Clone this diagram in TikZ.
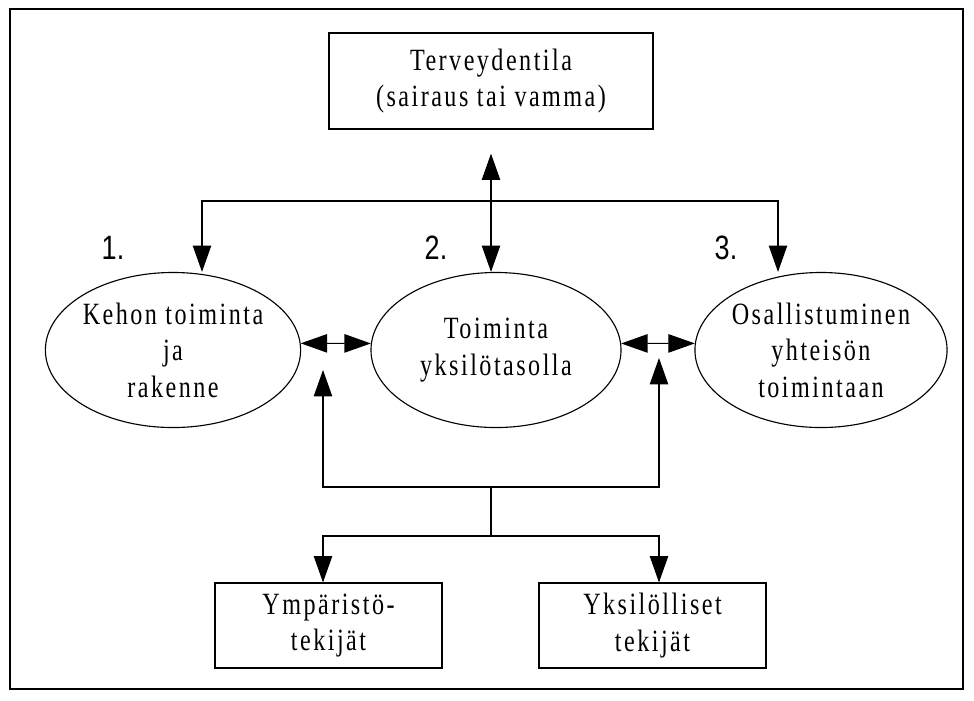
\documentclass[tikz,border=0pt]{standalone}
\usepackage{fontspec}
\setmainfont{Liberation Serif}[FakeStretch=0.78,LetterSpace=8]
\newfontfamily\numfont{Liberation Sans}[FakeStretch=0.8]
\usetikzlibrary{arrows.meta,shapes.geometric,positioning}
\newcommand{\boxfont}{\fontsize{22}{26}\selectfont}
\tikzset{%
	block/.style    = {draw, rectangle, line width=0.8pt, inner sep=0pt, align=center, font=\boxfont},
	blob/.style     = {draw, ellipse, line width=0.8pt, minimum width=6.25cm, minimum height=3.875cm, inner sep=0pt, align=center, font=\boxfont}, % Ellipse
	number/.style   = {font=\numfont\fontsize{24}{28}\selectfont}, % Number label
	waypoint/.style = {coordinate},
	arrow/.style    = {line width=0.8pt, -{Triangle[length=0.66cm,width=0.46cm]}},
	dblarrow/.style = {line width=0.8pt, {Triangle[length=0.66cm,width=0.46cm]}-{Triangle[length=0.66cm,width=0.46cm]}},
}

\begin{document}
\begin{tikzpicture}[x=0.025cm,y=-0.025cm]
	\useasboundingbox (0,0) rectangle (974,700);
	\draw[line width=1.4pt] (10,9) rectangle (963,689);
	
	\node [block, minimum width=8.1cm, minimum height=2.4cm] (health) at (491,81) {Terveydentila\\(sairaus tai vamma)};
	\node [blob] (body) at (173,350) {Kehon toiminta\\ja\\rakenne};
	\node [blob] (act) at (496,350) {Toiminta\\yksilötasolla};
	\node [blob] (part) at (821,350) {Osallistuminen\\yhteisön\\toimintaan};
	\node [number] (n1) at (113,248) {1.};
	\node [number] (n2) at (436,248) {2.};
	\node [number] (n3) at (726,248) {3.};
	\node [block, minimum width=5.675cm, minimum height=2.125cm] (env) at (328.5,625.5) {Ympäristö-\\tekijät};
	\node [block, minimum width=5.675cm, minimum height=2.125cm] (pers) at (652.5,625.5) {Yksilölliset\\tekijät};
	
	\node [waypoint] (tl) at (202,201) {};
	\node [waypoint] (tr) at (778,201) {};
	\node [waypoint] (ul) at (323,370) {};
	\node [waypoint] (ur) at (659,358) {};
	\node [waypoint] (bl) at (323,487) {};
	\node [waypoint] (br) at (659,487) {};
	\node [waypoint] (bm) at (491,487) {};
	\node [waypoint] (jm) at (491,536) {};
	\node [waypoint] (jl) at (323,536) {};
	\node [waypoint] (jr) at (659,536) {};
	
	\draw[dblarrow, shorten <=0.6cm] (health) -- (health |- act.north);
	\draw[dblarrow] (tl |- body.north) -- (tl) -- (tr) -- (tr |- part.north);
	\draw[dblarrow] (body.3) -- (act.177);
	\draw[dblarrow] (act.3) -- (part.177);
	\draw[dblarrow] (ul) -- (bl) -- (br) -- (ur);
	\draw[line width=0.8pt] (bm) -- (jm);
	\draw[dblarrow] (jl |- env.north) -- (jl) -- (jr) -- (jr |- pers.north);
\end{tikzpicture}
\end{document}
